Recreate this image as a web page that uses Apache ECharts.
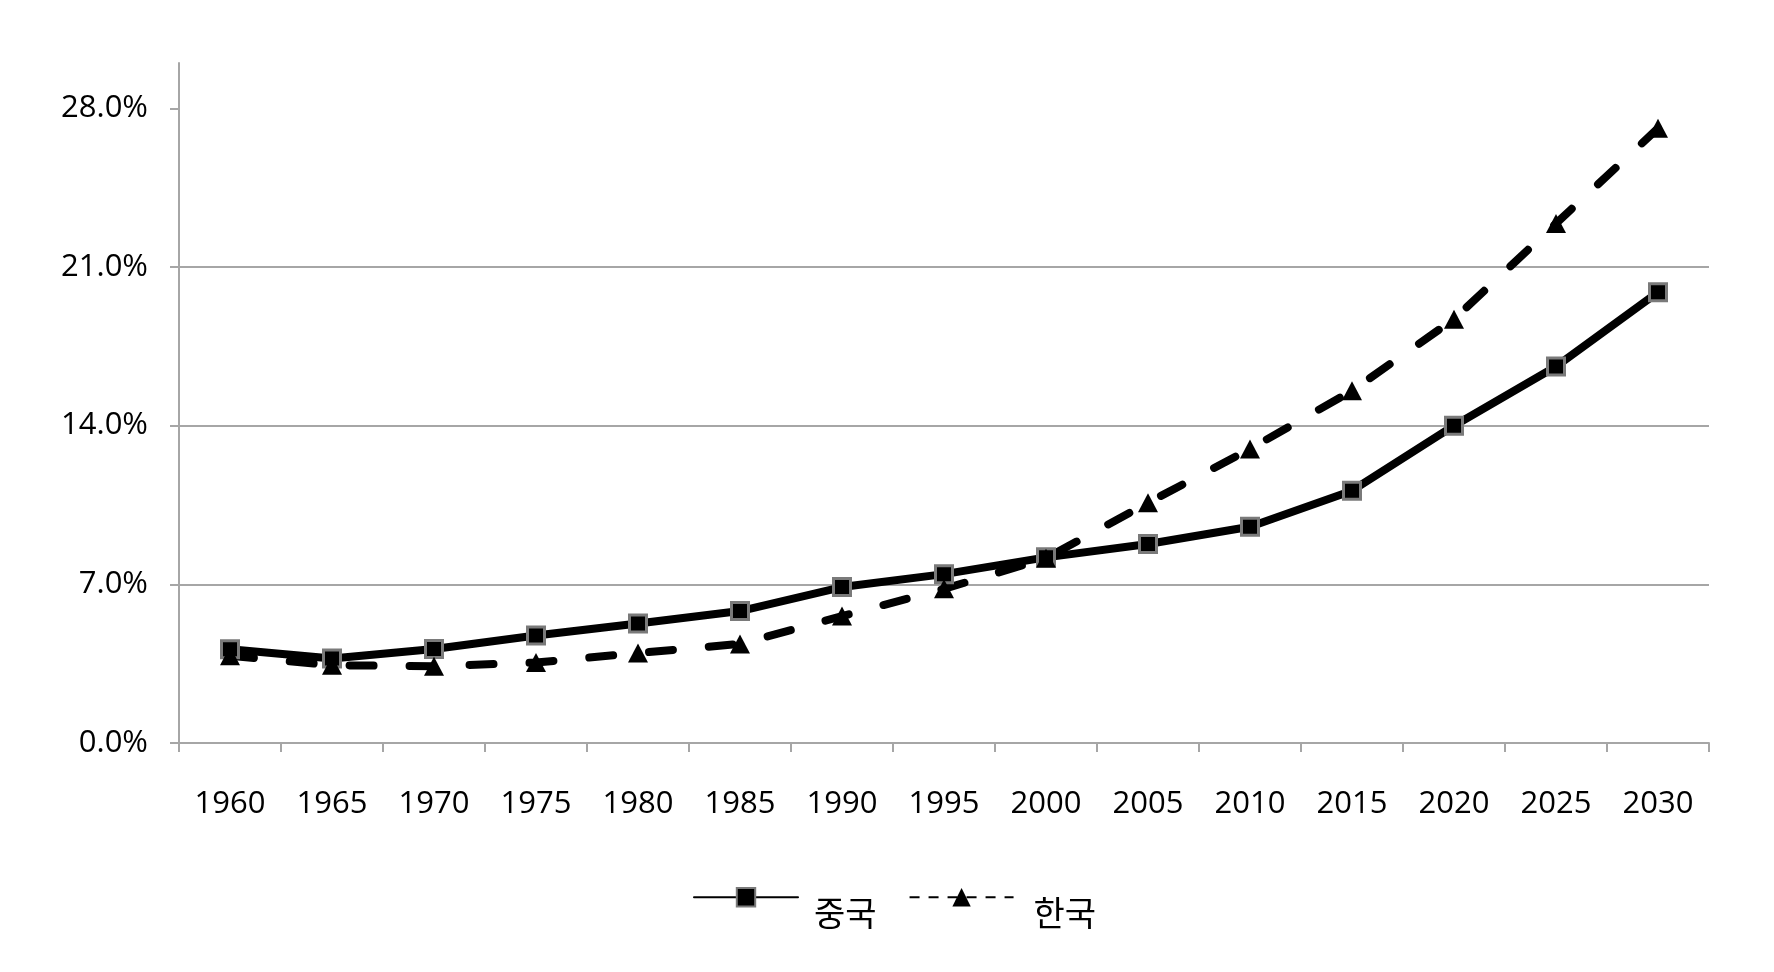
<!DOCTYPE html>
<html>
<head>
<meta charset="utf-8">
<script src="https://cdn.jsdelivr.net/npm/echarts@6/dist/echarts.min.js"></script>
<style>
html,body{margin:0;padding:0;background:#fff;}
#chart{width:1774px;height:972px;}
</style>
</head>
<body>
<div id="chart"></div>
<script>
const years = ['1960','1965','1970','1975','1980','1985','1990','1995','2000','2005','2010','2015','2020','2025','2030'];
const china = [4.14, 3.73, 4.15, 4.74, 5.27, 5.82, 6.88, 7.45, 8.19, 8.78, 9.54, 11.13, 14.0, 16.61, 19.89];
const korea = [3.85, 3.43, 3.39, 3.55, 3.97, 4.37, 5.6, 6.8, 8.15, 10.6, 12.97, 15.54, 18.7, 22.92, 27.12];
const yTicks = [0, 7, 14, 21, 28];
const seriesNames = ['중국', '한국'];

const chart = echarts.init(document.getElementById('chart'), null, {renderer: 'canvas'});
const labelFont = '"Open Sans", sans-serif';
const gray = '#a6a6a6';
chart.setOption({
  animation: false,
  backgroundColor: '#fff',
  grid: {left: 179, right: 65, top: 63, bottom: 229, containLabel: false},
  xAxis: {
    type: 'category',
    data: years,
    boundaryGap: true,
    axisLine: {show: true, lineStyle: {color: gray, width: 2}},
    axisTick: {show: true, length: 9, lineStyle: {color: gray, width: 2}},
    axisLabel: {color: '#000', fontFamily: labelFont, fontSize: 31, margin: 46, interval: 0},
    splitLine: {show: false}
  },
  yAxis: {
    type: 'value',
    min: 0, max: 30, interval: 7,
    axisLine: {show: true, lineStyle: {color: gray, width: 2}},
    axisTick: {show: true, length: 9, customValues: yTicks, lineStyle: {color: gray, width: 2}},
    axisLabel: {color: '#000', fontFamily: labelFont, fontSize: 31, margin: 31, customValues: yTicks,
      formatter: v => v.toFixed(1) + '%'},
    splitLine: {show: true, showMaxLine: false, lineStyle: {color: gray, width: 2}}
  },
  legend: {
    left: 688, top: 882,
    itemWidth: 104, itemHeight: 23, itemGap: 32,
    formatter: name => (name === seriesNames[0] ? '{s| }' : '{k| }') + '{t|' + name + '}',
    textStyle: {
      color: '#000', fontFamily: '"Noto Sans CJK KR", sans-serif', fontSize: 34,
      rich: {
        s: {fontSize: 1, width: 11, height: 66},
        k: {fontSize: 1, width: 15, height: 66},
        t: {fontFamily: '"Noto Sans CJK KR", sans-serif', fontSize: 34, color: '#000', verticalAlign: 'bottom', lineHeight: 40}
      }
    },
    data: [
      {name: seriesNames[0], lineStyle: {width: 2, type: 'solid', color: '#000'}},
      {name: seriesNames[1], lineStyle: {width: 2, type: [10, 9], cap: 'butt', color: '#000'}}
    ]
  },
  series: [
    {
      name: seriesNames[0], type: 'line', data: china,
      symbol: 'rect', symbolSize: 17,
      itemStyle: {color: '#000', borderColor: '#7a7a7a', borderWidth: 3},
      lineStyle: {color: '#000', width: 8, cap: 'round', join: 'round'}
    },
    {
      name: seriesNames[1], type: 'line', data: korea,
      symbol: 'triangle', symbolSize: [20, 19],
      itemStyle: {color: '#000', borderWidth: 0},
      lineStyle: {color: '#000', width: 8, type: [24, 36], cap: 'round', join: 'round'}
    }
  ]
});
</script>
</body>
</html>
